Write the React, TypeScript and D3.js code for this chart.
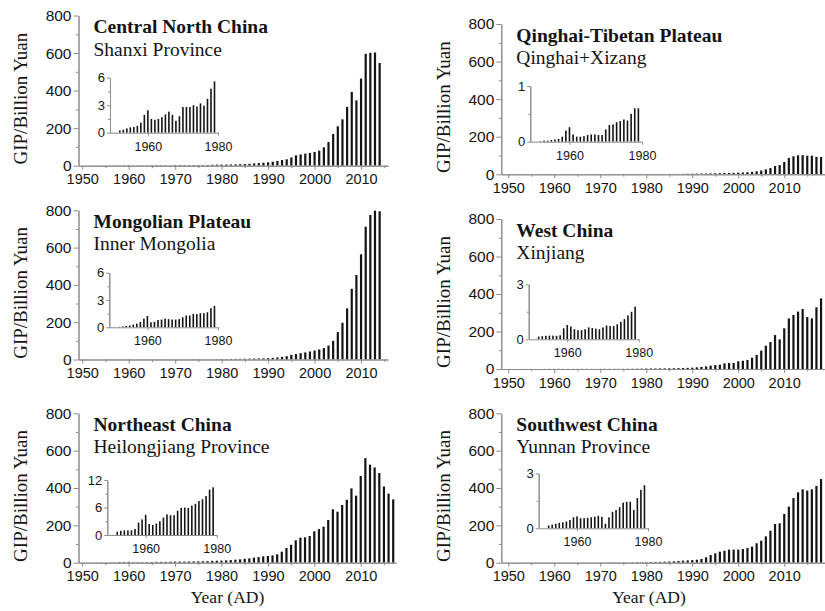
import React, { useEffect, useRef } from "react";
import * as d3 from "d3";

// Gross industrial product (billion yuan), one value per year from 1952 on.
const FIRST_YEAR = 1952;

const shanxiGip = [
  0.25, 0.33, 0.47, 0.58, 0.62, 0.75, 1.1, 1.95, 2.45, 1.5, 1.4, 1.5, 1.7, 2.0,
  2.3, 1.95, 1.3, 1.8, 2.8, 2.8, 2.8, 3.0, 2.85, 3.2, 2.95, 3.7, 4.8, 5.6,
  5.8, 6, 6.5, 7, 8, 9, 10, 12, 14, 16,
  18, 21, 25, 30, 34, 44, 55, 60, 64, 68,
  73, 80, 98, 126, 169, 210, 247, 313, 393, 348,
  464, 596, 601, 603, 547,
];

const qinghaiXizangGip = [
  0.01, 0.02, 0.02, 0.03, 0.04, 0.05, 0.09, 0.2, 0.26, 0.13, 0.09, 0.09, 0.1,
  0.12, 0.13, 0.13, 0.12, 0.12, 0.22, 0.3, 0.31, 0.35, 0.37, 0.4, 0.38, 0.5, 0.6, 0.6,
  0.8, 0.9, 1.0, 1.1, 1.3, 1.5, 1.7, 2, 2.4, 2.7,
  3, 3.3, 3.7, 4.2, 4.8, 5.5, 6, 6.5, 7, 7.5,
  8.5, 9.5, 11, 13, 16, 20, 26, 33, 44, 49,
  66, 87, 96, 101, 102, 99, 99, 93, 92,
];

const innerMongoliaGip = [
  0.05, 0.1, 0.15, 0.2, 0.3, 0.4, 0.6, 0.95, 1.25, 0.55, 0.6, 0.8, 0.85, 0.95,
  0.9, 0.85, 0.85, 0.9, 1.1, 1.3, 1.3, 1.45, 1.45, 1.55, 1.55, 1.65, 2.1, 2.35,
  2.7, 2.8, 3, 3.2, 3.5, 4, 4.5, 5, 5.5, 6,
  7, 9, 11, 14, 18, 25, 29, 34, 38, 43,
  48, 54, 61, 75, 100, 147, 197, 274, 379, 453,
  564, 712, 775, 798, 795,
];

const xinjiangGip = [
  0.15, 0.17, 0.19, 0.2, 0.2, 0.19, 0.22, 0.6, 0.78, 0.7, 0.55, 0.5, 0.5, 0.55,
  0.65, 0.62, 0.58, 0.55, 0.65, 0.75, 0.72, 0.72, 0.82, 0.96, 1.1, 1.3, 1.5, 1.78,
  2.3, 2.5, 2.7, 3, 3.3, 3.7, 4.1, 4.6, 5.2, 6,
  7, 9, 11, 14, 18, 21, 23, 30, 32, 32,
  41, 44, 48, 60, 75, 98, 124, 144, 181, 158,
  217, 270, 288, 306, 320, 277, 270, 329, 377,
];

const heilongjiangGip = [
  0.7, 0.9, 1.0, 1.0, 1.0, 1.3, 2.7, 3.4, 4.4, 2.4, 2.2, 2.5, 3.0, 3.8,
  4.5, 4.3, 4.3, 5.3, 5.9, 6.0, 5.9, 6.4, 6.8, 7.4, 7.8, 8.5, 9.9, 10.4,
  11, 12.5, 14, 16, 18, 21, 23, 27, 30, 34,
  36, 39, 45, 59, 79, 96, 120, 134, 136, 143,
  168, 180, 193, 229, 286, 273, 309, 337, 398, 359,
  464, 560, 525, 510, 480, 408, 370, 339,
];

const yunnanGip = [
  0.15, 0.2, 0.25, 0.3, 0.33, 0.37, 0.45, 0.6, 0.65, 0.55, 0.55, 0.57, 0.6, 0.63,
  0.68, 0.62, 0.25, 0.6, 0.9, 1.0, 1.15, 1.4, 1.45, 1.45, 1.0, 1.65, 2.1, 2.35,
  3, 3.5, 4, 4.5, 5.5, 6.5, 7.5, 9, 11, 12.5,
  14, 16, 20, 29, 41, 50, 59, 64, 70, 70,
  70, 73, 79, 86, 104, 118, 141, 171, 207, 211,
  261, 300, 346, 377, 393, 386, 393, 411, 448,
];

const regionNames = [
  "Central North China",
  "Qinghai-Tibetan Plateau",
  "Mongolian Plateau",
  "West China",
  "Northeast China",
  "Southwest China",
];
const provinceNames = [
  "Shanxi Province",
  "Qinghai+Xizang",
  "Inner Mongolia",
  "Xinjiang",
  "Heilongjiang Province",
  "Yunnan Province",
];
const seriesList = [
  shanxiGip,
  qinghaiXizangGip,
  innerMongoliaGip,
  xinjiangGip,
  heilongjiangGip,
  yunnanGip,
];

const mainTicks = [0, 200, 400, 600, 800];
const mainMinorTicks = [100, 300, 500, 700];
const decadeTicks = [1950, 1960, 1970, 1980, 1990, 2000, 2010];
const halfDecadeTicks = [1955, 1965, 1975, 1985, 1995, 2005, 2015];
const insetYearTicks = [1960, 1980];
const insetMax = [6, 1, 6, 3, 12, 3];
const insetTicks = [[0, 3, 6], [0, 1], [0, 3, 6], [0, 3], [0, 6, 12], [0, 3]];
const insetMinorTicks = [[1.5, 4.5], [0.5], [1.5, 4.5], [1.5], [3, 9], [1.5]];

// Panel frames: main plot box and the inset box inside it.
const frames = [
  { left: 78.5, right: 388, top: 15.5, bottom: 165.7, x0: 1949.2, x1: 2015.8,
    inset: { left: 110, width: 108, top: 77.7, bottom: 132.7 } },
  { left: 501.3, right: 830.7, top: 24, bottom: 174.3, x0: 1948.48, x1: 2020.1,
    inset: { left: 530.3, width: 111.7, top: 86, bottom: 141.7 } },
  { left: 78.5, right: 388, top: 210.3, bottom: 359.5, x0: 1949.2, x1: 2015.8,
    inset: { left: 109.3, width: 108.7, top: 272.7, bottom: 327.3 } },
  { left: 501.3, right: 830.7, top: 219, bottom: 369, x0: 1948.48, x1: 2020.1,
    inset: { left: 528.7, width: 110, top: 284.3, bottom: 339.3 } },
  { left: 78.5, right: 396, top: 413.3, bottom: 562.7, x0: 1949.2, x1: 2017.6,
    inset: { left: 107.3, width: 109.4, top: 480, bottom: 535 } },
  { left: 501.3, right: 830.7, top: 413.3, bottom: 562.7, x0: 1948.48, x1: 2020.1,
    inset: { left: 538.7, width: 109.3, top: 473.3, bottom: 528.3 } },
];

const SANS = "'Liberation Sans', Arial, Helvetica, sans-serif";
const SERIF = "'Liberation Serif', 'Times New Roman', Times, serif";
const AXIS_GREY = "#8c8c8c";
const INK = "#141414";

type Datum = { year: number; value: number };

function toYears(values: number[]): Datum[] {
  return values.map((value, i) => ({ year: FIRST_YEAR + i, value }));
}

function styleAxis(sel: d3.Selection<SVGGElement, unknown, null, undefined>, fontSize: number) {
  sel.select(".domain").attr("stroke", AXIS_GREY).attr("stroke-width", 1);
  sel.selectAll(".tick line").attr("stroke", AXIS_GREY).attr("stroke-width", 1);
  sel
    .selectAll(".tick text")
    .attr("fill", INK)
    .style("font-family", SANS)
    .style("font-size", `${fontSize}px`);
}

function drawPanel(root: d3.Selection<SVGGElement, unknown, null, undefined>, idx: number) {
  const f = frames[idx];
  const data = toYears(seriesList[idx]);
  const g = root.append("g");

  const x = d3.scaleLinear().domain([f.x0, f.x1]).range([f.left, f.right]);
  const y = d3.scaleLinear().domain([0, 800]).range([f.bottom, f.top]);

  // main bars
  g.append("g")
    .selectAll("rect")
    .data(data)
    .join("rect")
    .attr("x", (d) => x(d.year) - 1.1)
    .attr("width", 2.2)
    .attr("y", (d) => y(d.value))
    .attr("height", (d) => Math.max(0, y(0) - y(d.value)))
    .attr("fill", INK);

  // main axes
  const xMinor = g.append("g").attr("transform", `translate(0,${f.bottom})`)
    .call(d3.axisBottom(x).tickValues(halfDecadeTicks).tickSize(2.5).tickSizeOuter(0).tickFormat(() => ""));
  styleAxis(xMinor, 14);
  const xMajor = g.append("g").attr("transform", `translate(0,${f.bottom})`)
    .call(d3.axisBottom(x).tickValues(decadeTicks).tickSize(4).tickPadding(4.5).tickSizeOuter(0).tickFormat(d3.format("d")));
  styleAxis(xMajor, 14.5);

  const yMinor = g.append("g").attr("transform", `translate(${f.left},0)`)
    .call(d3.axisLeft(y).tickValues(mainMinorTicks).tickSize(2.5).tickSizeOuter(0).tickFormat(() => ""));
  styleAxis(yMinor, 15);
  const yMajor = g.append("g").attr("transform", `translate(${f.left},0)`)
    .call(d3.axisLeft(y).tickValues(mainTicks).tickSize(5).tickPadding(2).tickSizeOuter(0).tickFormat(d3.format("d")));
  styleAxis(yMajor, 15.5);

  // region title and province
  g.append("text")
    .attr("x", f.left + 15)
    .attr("y", f.top + 17.8)
    .attr("fill", INK)
    .style("font-family", SERIF)
    .style("font-weight", "bold")
    .style("font-size", "19.5px")
    .text(regionNames[idx]);
  g.append("text")
    .attr("x", f.left + 15)
    .attr("y", f.top + 40)
    .attr("fill", INK)
    .style("font-family", SERIF)
    .style("font-size", "19.5px")
    .text(provinceNames[idx]);

  // y-axis title
  const midY = (f.top + f.bottom) / 2 + 8;
  g.append("text")
    .attr("transform", `translate(${f.left - 51.5},${midY}) rotate(-90)`)
    .attr("text-anchor", "middle")
    .attr("fill", INK)
    .style("font-family", SERIF)
    .style("font-size", "19px")
    .text("GIP/Billion Yuan");

  // inset: 1952-1979 detail
  const ins = f.inset;
  const early = data.filter((d) => d.year <= 1979);
  const ix = d3.scaleLinear().domain([1949.2, 1980]).range([ins.left, ins.left + ins.width]);
  const iy = d3.scaleLinear().domain([0, insetMax[idx]]).range([ins.bottom, ins.top]);

  g.append("g")
    .selectAll("rect")
    .data(early)
    .join("rect")
    .attr("x", (d) => ix(d.year) - 0.8)
    .attr("width", 1.6)
    .attr("y", (d) => iy(d.value))
    .attr("height", (d) => Math.max(0, iy(0) - iy(d.value)))
    .attr("fill", INK);

  const ixAxis = g.append("g").attr("transform", `translate(0,${ins.bottom})`)
    .call(d3.axisBottom(ix).tickValues(insetYearTicks).tickSize(3).tickPadding(6).tickSizeOuter(0).tickFormat(d3.format("d")));
  styleAxis(ixAxis, 12.5);
  const iyMinor = g.append("g").attr("transform", `translate(${ins.left},0)`)
    .call(d3.axisLeft(iy).tickValues(insetMinorTicks[idx]).tickSize(2).tickSizeOuter(0).tickFormat(() => ""));
  styleAxis(iyMinor, 12.5);
  const iyAxis = g.append("g").attr("transform", `translate(${ins.left},0)`)
    .call(d3.axisLeft(iy).tickValues(insetTicks[idx]).tickSize(3).tickPadding(2).tickSizeOuter(0).tickFormat(d3.format("d")));
  styleAxis(iyAxis, 13);
}

export default function App() {
  const ref = useRef<SVGSVGElement | null>(null);

  useEffect(() => {
    if (!ref.current) return;
    const svg = d3.select(ref.current);
    svg.selectAll("*").remove();
    const root = svg.append("g");
    frames.forEach((_, i) => drawPanel(root, i));

    // shared x-axis titles under the bottom row
    [227.5, 649].forEach((cx) => {
      root.append("text")
        .attr("x", cx)
        .attr("y", 603)
        .attr("text-anchor", "middle")
        .attr("fill", INK)
        .style("font-family", SERIF)
        .style("font-size", "17.5px")
        .text("Year (AD)");
    });
  }, []);

  return (
    <svg
      ref={ref}
      width={825}
      height={611}
      style={{ position: "absolute", left: 0, top: 0, background: "#ffffff" }}
    />
  );
}
